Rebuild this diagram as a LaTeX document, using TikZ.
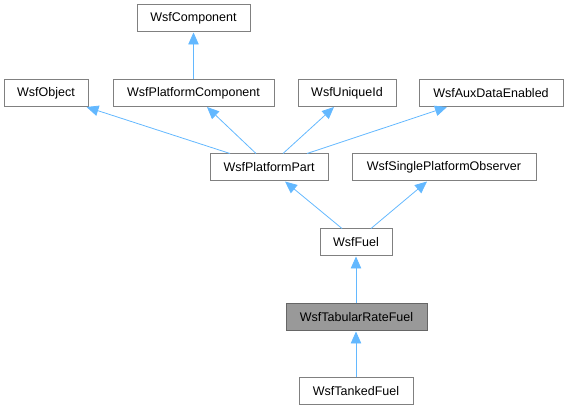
\documentclass[tikz,border=0pt]{standalone}
\usepackage{fontspec}
\setmainfont{Liberation Sans}
\usetikzlibrary{arrows.meta}
\definecolor{edgeblue}{RGB}{99,184,255}
\definecolor{boxline}{RGB}{128,128,128}
\definecolor{hlfill}{RGB}{153,153,153}
\definecolor{hlline}{RGB}{102,102,102}
\tikzset{
  cls/.style={draw=boxline, line width=1pt, fill=white, inner sep=0pt, minimum height=27pt, font=\fontsize{12.5}{14}\selectfont, text=black},
  hl/.style={cls, fill=hlfill, draw=hlline},
  arr/.style={draw=edgeblue, line width=0.8pt, -{Triangle[length=12pt,width=10.5pt]}, edgeblue},
}
\begin{document}
\begin{tikzpicture}[x=1pt,y=-1pt]
\useasboundingbox (0,0) rectangle (568,411);
\node[cls, minimum width=113pt] (comp) at (193.5,18.5) {WsfComponent};
\node[cls, minimum width=84pt] (obj) at (46,93) {WsfObject};
\node[cls, minimum width=161pt] (pc) at (193.5,93) {WsfPlatformComponent};
\node[cls, minimum width=98pt] (uid) at (347,93) {WsfUniqueId};
\node[cls, minimum width=144pt] (aux) at (491,93) {WsfAuxDataEnabled};
\node[cls, minimum width=118pt] (pp) at (269,167.5) {WsfPlatformPart};
\node[cls, minimum width=184pt] (spo) at (444,167.5) {WsfSinglePlatformObserver};
\node[cls, minimum width=72pt] (fuel) at (356,242.5) {WsfFuel};
\node[hl, minimum width=141pt] (trf) at (356.5,317.5) {WsfTabularRateFuel};
\node[cls, minimum width=114pt] (tf) at (356,391.5) {WsfTankedFuel};

\draw[arr] (pc.north) -- (comp.south);
\draw[arr] ([xshift=-39pt]pp.north) -- ([xshift=-2pt]obj.south east);
\draw[arr] ([xshift=-13pt]pp.north) -- ([xshift=13.5pt]pc.south);
\draw[arr] ([xshift=14pt]pp.north) -- ([xshift=-13pt]uid.south);
\draw[arr] ([xshift=38pt]pp.north) -- ([xshift=-44pt]aux.south);
\draw[arr] ([xshift=-14pt]fuel.north) -- ([xshift=16pt]pp.south);
\draw[arr] ([xshift=15pt]fuel.north) -- ([xshift=-17pt]spo.south);
\draw[arr] (trf.north -| fuel.south) -- (fuel.south);
\draw[arr] (tf.north) -- (tf.north |- trf.south);
\end{tikzpicture}
\end{document}
